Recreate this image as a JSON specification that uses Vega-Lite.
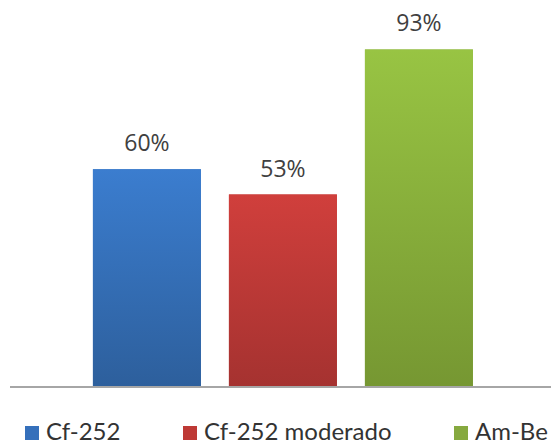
{
  "$schema": "https://vega.github.io/schema/vega-lite/v6.json",
  "width": 541,
  "height": 363,
  "autosize": {"type": "none"},
  "padding": {"left": 10, "top": 24, "right": 0, "bottom": 59},
  "background": "white",
  "config": {"view": {"stroke": null}, "font": "Open Sans"},
  "data": {
    "values": [
      {"fuente": "Cf-252", "pct": 0.60},
      {"fuente": "Cf-252 moderado", "pct": 0.53},
      {"fuente": "Am-Be", "pct": 0.93}
    ]
  },
  "encoding": {
    "x": {
      "field": "fuente",
      "type": "nominal",
      "sort": null,
      "scale": {"paddingInner": 0.206, "paddingOuter": 0.592, "align": 0.515},
      "axis": null
    },
    "y": {
      "field": "pct",
      "type": "quantitative",
      "scale": {"domain": [0, 1]},
      "axis": null
    }
  },
  "layer": [
    {
      "mark": {"type": "bar"},
      "encoding": {
        "color": {
          "field": "fuente",
          "type": "nominal",
          "sort": null,
          "scale": {"domain": ["Cf-252", "Cf-252 moderado", "Am-Be"], "range": ["#3570bb", "#be3935", "#86a93f"]},
          "legend": {
            "orient": "none",
            "direction": "horizontal",
            "legendX": 10,
            "legendY": 397,
            "title": null,
            "symbolType": "square",
            "symbolSize": 196,
            "symbolStrokeWidth": 0,
            "symbolOpacity": 1,
            "labelFont": "Lato",
            "labelFontSize": 24,
            "labelColor": "#333333",
            "labelOffset": 2,
            "labelLimit": 400,
            "columnPadding": 57
          }
        }
      }
    },
    {
      "mark": {
        "type": "bar",
        "fill": {
          "gradient": "linear", "x1": 0, "y1": 0, "x2": 0, "y2": 1,
          "stops": [{"offset": 0, "color": "#3b7dcf"}, {"offset": 1, "color": "#2d5f9c"}]
        }
      },
      "transform": [{"filter": "datum.fuente === 'Cf-252'"}]
    },
    {
      "mark": {
        "type": "bar",
        "fill": {
          "gradient": "linear", "x1": 0, "y1": 0, "x2": 0, "y2": 1,
          "stops": [{"offset": 0, "color": "#d03f3c"}, {"offset": 1, "color": "#a53230"}]
        }
      },
      "transform": [{"filter": "datum.fuente === 'Cf-252 moderado'"}]
    },
    {
      "mark": {
        "type": "bar",
        "fill": {
          "gradient": "linear", "x1": 0, "y1": 0, "x2": 0, "y2": 1,
          "stops": [{"offset": 0, "color": "#98c443"}, {"offset": 1, "color": "#769732"}]
        }
      },
      "transform": [{"filter": "datum.fuente === 'Am-Be'"}]
    },
    {
      "mark": {"type": "rule", "color": "#a6a6a6", "strokeWidth": 2},
      "encoding": {"x": null, "y": {"datum": 0}}
    },
    {
      "mark": {"type": "text", "baseline": "alphabetic", "dy": -18, "fontSize": 23, "font": "Open Sans", "color": "#404040"},
      "encoding": {
        "text": {"field": "pct", "type": "quantitative", "format": ".0%"}
      }
    }
  ]
}
